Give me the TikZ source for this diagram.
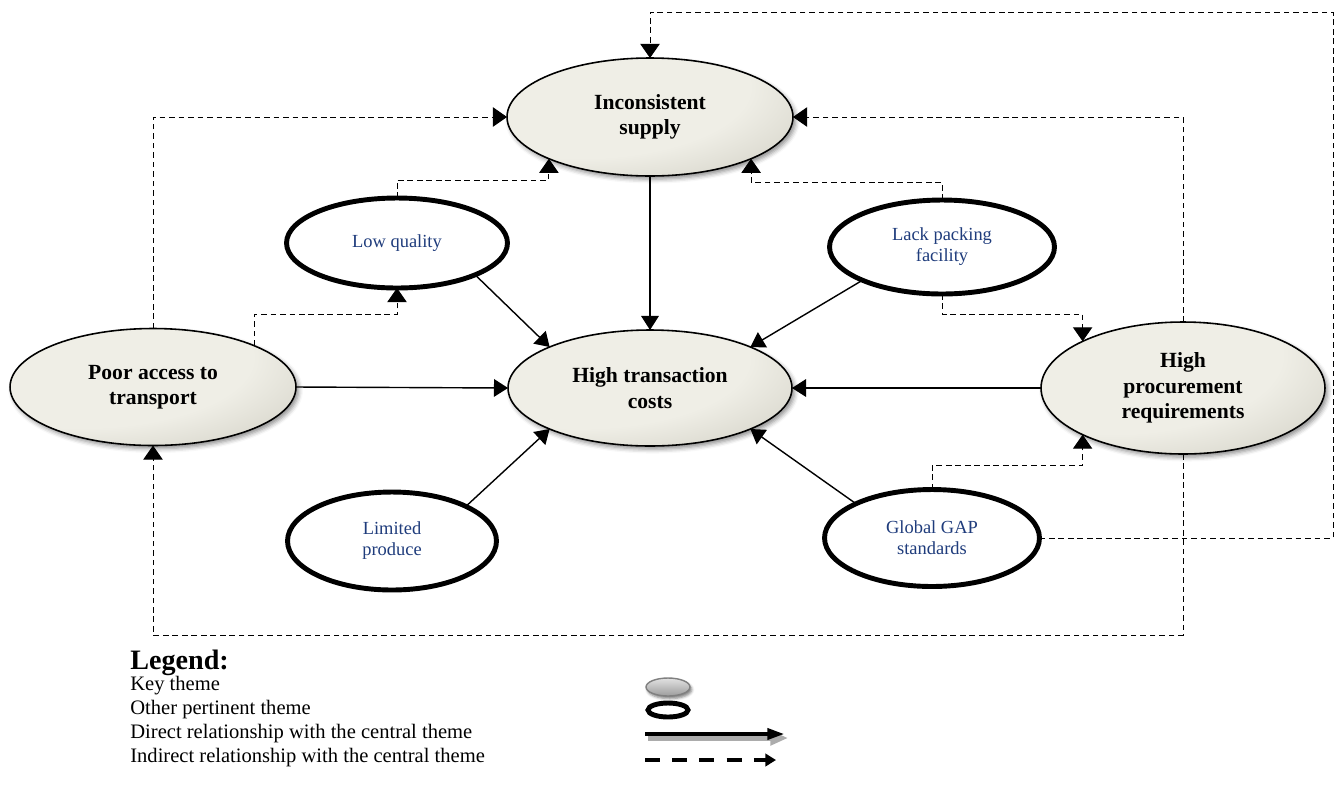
\documentclass[tikz,border=0pt]{standalone}
\usepackage{fontspec}
\setmainfont{Liberation Serif}
\usetikzlibrary{arrows.meta,shapes.geometric,shadows.blur,calc}
\definecolor{keyA}{HTML}{EFEEE6}
\definecolor{keyB}{HTML}{A9A697}
\definecolor{themeblue}{HTML}{1F3C7C}
\definecolor{legA}{HTML}{E2E2E2}
\definecolor{legB}{HTML}{9C9C9C}
\pgfdeclareradialshading{keyshade}{\pgfpoint{-18bp}{18bp}}{color(0bp)=(keyA); color(30bp)=(keyA); color(72bp)=(keyB); color(100bp)=(keyB)}

\begin{document}
\begin{tikzpicture}[x=0.02cm,y=-0.02cm,
  keytheme/.style={ellipse, draw=black, line width=0.9pt, shading=keyshade, shade,
    inner sep=0pt, outer sep=0pt, align=center,
    font=\fontsize{12.3}{14.5}\selectfont\bfseries,
    blur shadow={shadow xshift=1.5pt, shadow yshift=-1.8pt, shadow blur radius=2.5pt, shadow opacity=45}},
  othertheme/.style={ellipse, draw=black, line width=2.8pt, fill=white,
    inner sep=0pt, outer sep=0pt, align=center, text=themeblue,
    font=\fontsize{10.5}{12}\selectfont},
  direct/.style={line width=0.8pt, -{Triangle[length=8pt,width=10pt]}},
  indirect/.style={line width=0.55pt, dash pattern=on 3.2pt off 2.2pt,
    -{Triangle[length=8pt,width=11pt]}},
  legtext/.style={anchor=west, inner sep=0pt, font=\fontsize{11.7}{13}\selectfont},
]
\useasboundingbox (0,0) rectangle (1341,802);

% key themes
\node[keytheme, minimum width=5.72cm, minimum height=2.36cm] (incons) at (650,117) {Inconsistent\\supply};
\node[keytheme, minimum width=5.68cm, minimum height=2.32cm] (htc) at (650,388) {High transaction\\costs};
\node[keytheme, minimum width=5.72cm, minimum height=2.34cm] (poor) at (153,387) {Poor access to\\transport};
\node[keytheme, minimum width=5.68cm, minimum height=2.64cm] (proc) at (1183,388) {High\\procurement\\requirements};

% other pertinent themes
\node[othertheme, minimum width=4.42cm, minimum height=1.8cm] (lowq) at (397,243) {Low quality};
\node[othertheme, minimum width=4.5cm, minimum height=1.88cm] (lack) at (942,247) {Lack packing\\facility};
\node[othertheme, minimum width=4.18cm, minimum height=1.96cm] (lim) at (392,541) {Limited\\produce};
\node[othertheme, minimum width=4.3cm, minimum height=1.94cm] (gap) at (932,538) {Global GAP\\standards};

% direct relationships with the central theme
\draw[direct] (incons.south) -- (htc.north);
\draw[direct] (lowq.south east) -- (htc.north west);
\draw[direct] (lack.south west) -- (htc.north east);
\draw[direct] (lim.north east) -- (htc.south west);
\draw[direct] (gap.north west) -- (htc.south east);
\draw[direct] (poor.east) -- (htc.west);
\draw[direct] (proc.west) -- (htc.east);

% indirect relationships
\coordinate (topright) at (1333,12);
\draw[indirect] (poor.north) |- (incons.west);
\draw[indirect] (poor.north east) -- ++(0,-31) -| (lowq.south);
\draw[indirect] (lowq.north) -- ++(0,-18) -| (incons.south west);
\draw[indirect] (lack.north) -- ++(0,-18) -| (incons.south east);
\draw[indirect] (lack.south) -- ++(0,20) -| (proc.north west);
\draw[indirect] (gap.north) -- ++(0,-24) -| (proc.south west);
\draw[indirect] (proc.north) |- (incons.east);
\draw[indirect] (gap.east) -| (topright) -| (incons.north);
\draw[indirect] (proc.south) -- ++(0,181) -| (poor.south);

% legend
\node[anchor=west, inner sep=0pt, font=\fontsize{16}{17}\selectfont\bfseries] (legtitle) at (130,663) {Legend:};
\node[legtext] (lkey) at (130,686) {Key theme};
\node[legtext] (loth) at (130,710) {Other pertinent theme};
\node[legtext] (ldir) at (130,734) {Direct relationship with the central theme};
\node[legtext] (lind) at (130,758) {Indirect relationship with the central theme};

\node[ellipse, draw=gray, line width=0.8pt, top color=legA, bottom color=legB,
  minimum width=0.88cm, minimum height=0.36cm, inner sep=0pt,
  blur shadow={shadow xshift=1pt, shadow yshift=-1.5pt, shadow blur radius=1.5pt, shadow opacity=50}] (symkey) at (668,687) {};
\node[ellipse, draw=black, line width=2.8pt, fill=white,
  minimum width=0.8cm, minimum height=0.28cm, inner sep=0pt] (symoth) at (668,710) {};

\coordinate (dirA) at (645,734);
\coordinate (dirB) at (785,734);
\coordinate (dirAs) at (648,738);
\coordinate (dirBs) at (788,738);
\draw[line width=3pt, gray!65, -{Triangle[length=10pt,width=8pt]}] (dirAs) -- (dirBs);
\draw[line width=2.8pt, black, -{Triangle[length=10pt,width=6pt]}] (dirA) -- (dirB);

\coordinate (indA) at (645,760);
\coordinate (indB) at (776,760);
\draw[line width=2pt, dash pattern=on 8.5pt off 7pt, -{Triangle[length=6pt,width=7pt]}] (indA) -- (indB);
\end{tikzpicture}
\end{document}
